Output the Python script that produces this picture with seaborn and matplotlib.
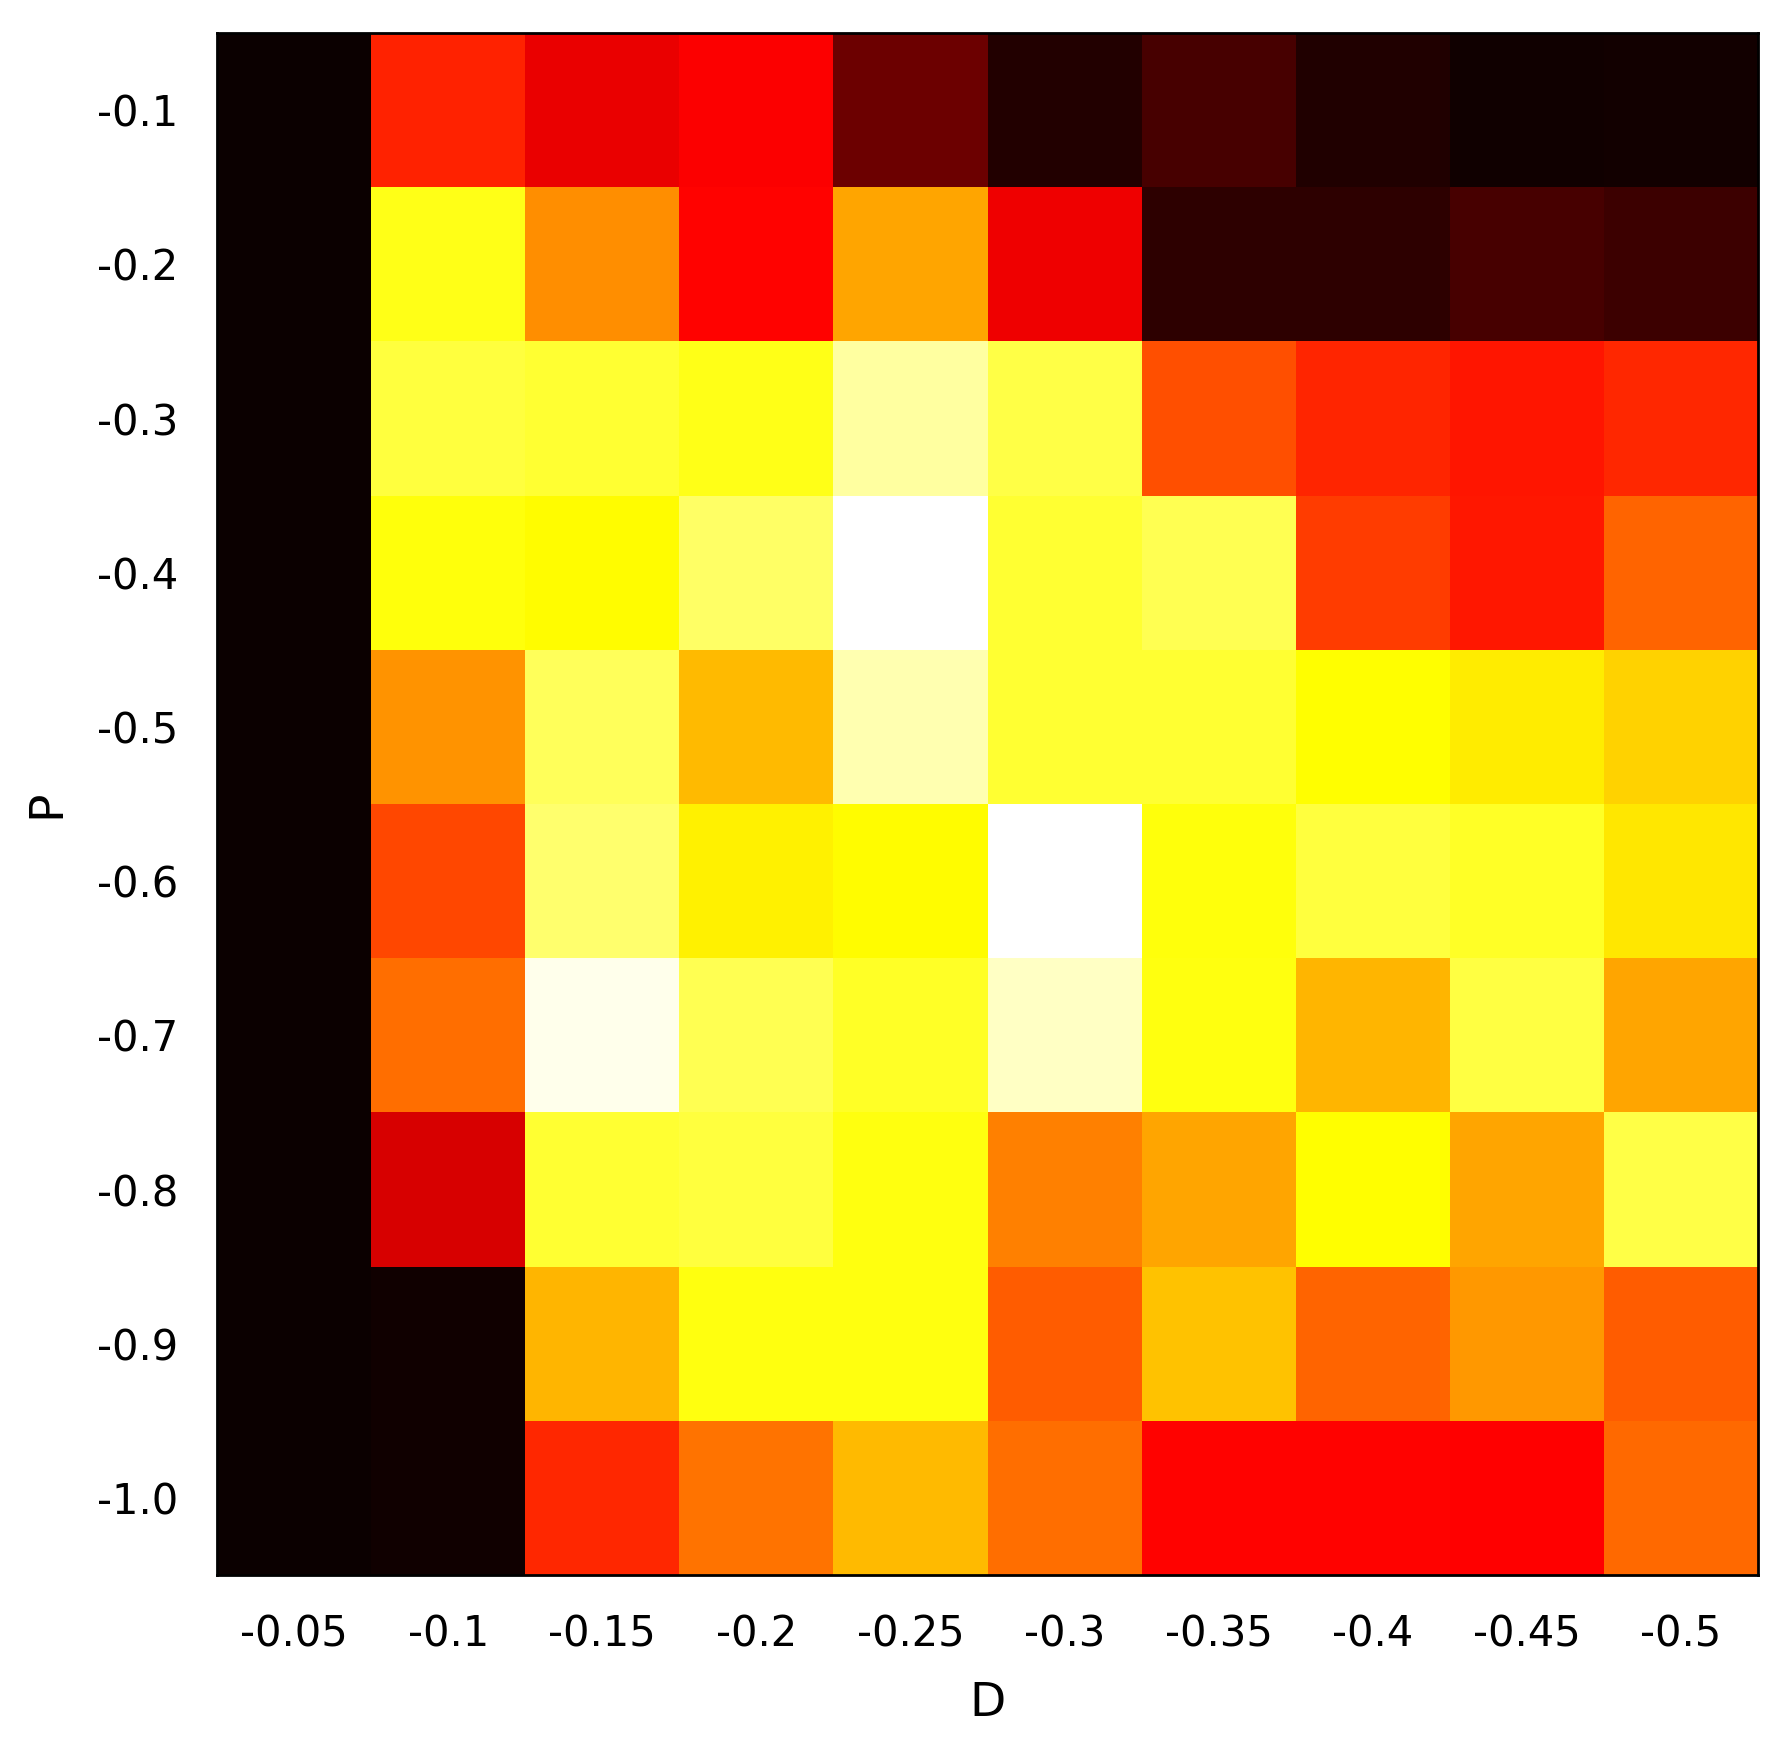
import numpy as np
import pandas as pd
import matplotlib
matplotlib.use("Agg")
import matplotlib.pyplot as plt
import seaborn as sns

d_labels = ['-0.05', '-0.1', '-0.15', '-0.2', '-0.25', '-0.3', '-0.35', '-0.4', '-0.45', '-0.5']
p_labels = ['-0.1', '-0.2', '-0.3', '-0.4', '-0.5', '-0.6', '-0.7', '-0.8', '-0.9', '-1.0']

# one row per P value, columns follow d_labels
row_p01 = [0.0, 0.415, 0.335, 0.36, 0.148, 0.037, 0.092, 0.035, 0.011, 0.015]
row_p02 = [0.0, 0.766, 0.575, 0.37, 0.61, 0.342, 0.051, 0.051, 0.092, 0.077]
row_p03 = [0.0, 0.805, 0.795, 0.766, 0.905, 0.815, 0.483, 0.42, 0.395, 0.425]
row_p04 = [0.0, 0.755, 0.74, 0.845, 1.0, 0.795, 0.825, 0.455, 0.40, 0.515]
row_p05 = [0.0, 0.585, 0.835, 0.643, 0.92, 0.795, 0.795, 0.745, 0.716, 0.678]
row_p06 = [0.0, 0.469, 0.855, 0.724, 0.74, 1.0, 0.755, 0.805, 0.785, 0.709]
row_p07 = [0.0, 0.529, 0.98, 0.825, 0.785, 0.94, 0.76, 0.635, 0.81, 0.61]
row_p08 = [0.0, 0.305, 0.795, 0.805, 0.76, 0.556, 0.61, 0.745, 0.61, 0.815]
row_p09 = [0.0, 0.011, 0.635, 0.76, 0.76, 0.50, 0.655, 0.515, 0.59, 0.50]
row_p10 = [0.0, 0.011, 0.425, 0.537, 0.643, 0.53, 0.37, 0.37, 0.365, 0.52]

grid = pd.DataFrame([row_p01, row_p02, row_p03, row_p04, row_p05,
                     row_p06, row_p07, row_p08, row_p09, row_p10],
                    index=p_labels, columns=d_labels)

sns.set_style("white")
plt.rcParams['font.family'] = ['DejaVu Sans']
plt.rcParams['text.color'] = 'black'
plt.rcParams['axes.labelcolor'] = 'black'
plt.rcParams['xtick.color'] = 'black'
plt.rcParams['ytick.color'] = 'black'

fig = plt.figure(figsize=(1791 / 200, 1752 / 200), dpi=200)
ax = fig.add_axes([217 / 1791, 1 - 1575 / 1752, 1541 / 1791, 1542 / 1752])
sns.heatmap(grid, cmap='hot', vmin=0, vmax=1, cbar=False, ax=ax)

for s in ax.spines.values():
    s.set_visible(True)
    s.set_color('black')
    s.set_linewidth(1.0)

ax.tick_params(axis='both', length=0, labelsize=15, labelcolor='black')
ax.tick_params(axis='x', pad=14)
ax.tick_params(axis='y', pad=14)
plt.setp(ax.get_yticklabels(), rotation=0, va='center_baseline')
plt.setp(ax.get_xticklabels(), rotation=0)
ax.set_xlabel('D', fontsize=17, labelpad=9, color='black')
ax.set_ylabel('P', fontsize=17, labelpad=10, color='black')

fig.savefig('out.png', dpi=200)
